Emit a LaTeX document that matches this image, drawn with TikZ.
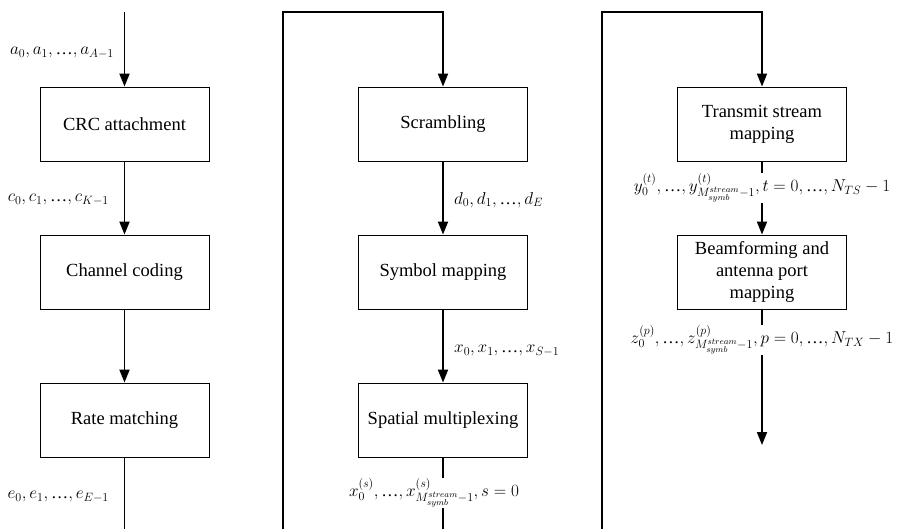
\RequirePackage{fix-cm}
\documentclass[tikz,border=0pt]{standalone}
\usepackage{fontspec}
\setmainfont{Liberation Serif}
\usetikzlibrary{arrows.meta}
\newcommand{\myell}{\mbox{…}}
\begin{document}
\begin{tikzpicture}[x=1pt,y=-1pt,
  box/.style={draw, line width=0.9pt, minimum width=169pt, minimum height=74pt, align=center, font=\fontsize{18.5}{22}\selectfont, inner sep=0pt},
  lab/.style={font=\fontsize{17.2}{20}\selectfont, inner sep=1pt},
  flow/.style={line width=1.9pt},
  arr/.style={flow, -{Triangle[length=13pt,width=10pt]}}]
\useasboundingbox (0,0) rectangle (897,529);
% boxes
\node[box] (crc) at (124.5,124) {CRC attachment};
\node[box] (cc) at (124.5,272) {Channel coding};
\node[box] (rm) at (124.5,420) {Rate matching};
\node[box] (scr) at (443,124) {Scrambling};
\node[box] (sym) at (443,272) {Symbol mapping};
\node[box] (sp) at (443,420) {Spatial multiplexing};
\node[box] (tsm) at (762,124) {Transmit stream\\mapping};
\node[box] (bf) at (762,272) {Beamforming and\\antenna port\\mapping};
% free ends
\coordinate (in) at (124.5,12);
\coordinate (b1) at (124.5,529);
\coordinate (b2) at (283,529);
\coordinate (t2) at (283,12);
\coordinate (b3) at (443,529);
\coordinate (b4) at (602,529);
\coordinate (t4) at (602,12);
\coordinate (out) at (762,445);
% labels
\node[lab, anchor=east] (la) at (115,53) {$a_0, a_1, \myell, a_{A-1}$};
\node[lab, anchor=east] (lc) at (110,200) {$c_0, c_1, \myell, c_{K-1}$};
\node[lab, anchor=east] (le) at (110,497) {$e_0, e_1, \myell, e_{E-1}$};
\node[lab, anchor=west] (ld) at (453,200) {$d_0, d_1, \myell, d_E$};
\node[lab, anchor=west] (lx) at (453,351) {$x_0, x_1, \myell, x_{S-1}$};
\node[lab] (ls) at (434,493) {$x_0^{(s)}, \myell, x^{(s)}_{M_{symb}^{stream}-1}, s=0$};
\node[lab] (ly) at (762,188) {$y_0^{(t)}, \myell, y^{(t)}_{M_{symb}^{stream}-1}, t=0, \myell, N_{TS}-1$};
\node[lab] (lz) at (762,340) {$z_0^{(p)}, \myell, z^{(p)}_{M_{symb}^{stream}-1}, p=0, \myell, N_{TX}-1$};
% connectors
\draw[arr] (in) -- (crc);
\draw[arr] (crc) -- (cc);
\draw[arr] (cc) -- (rm);
\draw[flow] (rm) -- (b1);
\draw[arr] (b2) -- (t2) -| (scr);
\draw[arr] (scr) -- (sym);
\draw[arr] (sym) -- (sp);
\draw[flow] (sp) -- (sp.south |- ls.north);
\draw[flow] (sp.south |- ls.south) -- (b3);
\draw[arr] (b4) -- (t4) -| (tsm);
\draw[flow] (tsm) -- (tsm.south |- ly.north);
\draw[arr] (tsm.south |- ly.south) -- (bf);
\draw[flow] (bf) -- (bf.south |- lz.north);
\draw[arr] (bf.south |- lz.south) -- (out);
\end{tikzpicture}
\end{document}
